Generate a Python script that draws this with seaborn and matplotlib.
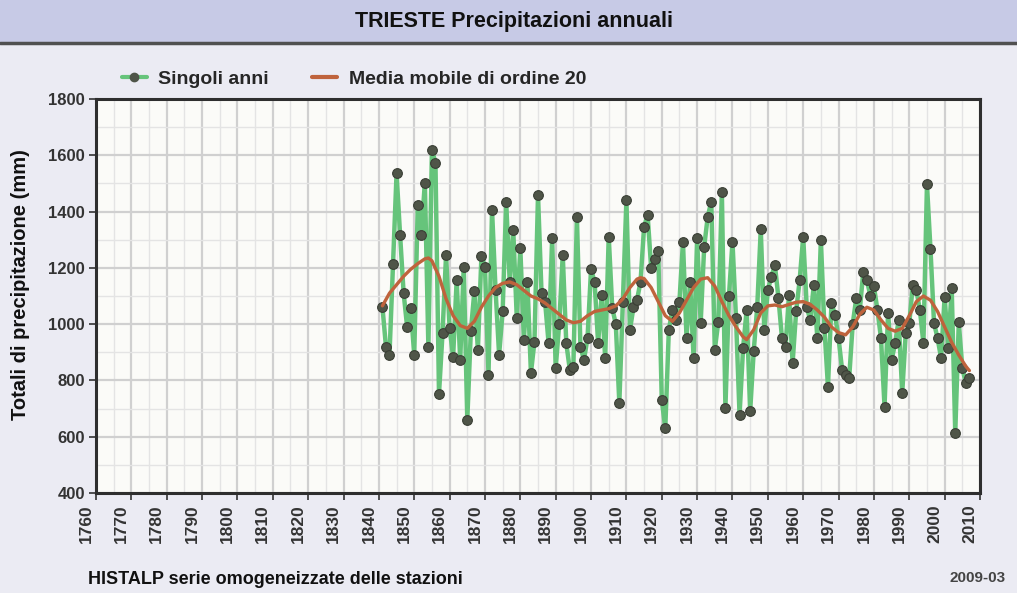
import matplotlib
matplotlib.use("Agg")
import matplotlib.pyplot as plt
from matplotlib.lines import Line2D
from matplotlib.patches import Rectangle
from matplotlib.ticker import MultipleLocator
from matplotlib.transforms import ScaledTranslation
import seaborn as sns
import pandas as pd

# Annual totals (mm)
years = list(range(1841, 2008))
precip = [1062, 920, 891, 1214, 1536, 1317, 1110, 989, 1057, 891,
          1423, 1317, 1503, 918, 1619, 1574, 752, 968, 1246, 986,
          885, 1157, 873, 1204, 660, 974, 1116, 909, 1242, 1204,
          820, 1406, 1121, 891, 1045, 1435, 1151, 1335, 1021, 1270,
          944, 1151, 826, 938, 1459, 1110, 1080, 932, 1305, 844,
          1001, 1246, 932, 838, 849, 1382, 920, 873, 950, 1195,
          1151, 932, 1104, 879, 1311, 1057, 1000, 719, 1080, 1441,
          979, 1060, 1086, 1151, 1346, 1388, 1199, 1231, 1261, 731,
          630, 979, 1051, 1013, 1080, 1293, 950, 1151, 879, 1305,
          1003, 1275, 1382, 1435, 909, 1009, 1471, 701, 1100, 1293,
          1021, 677, 915, 1050, 690, 903, 1062, 1337, 979, 1121,
          1169, 1210, 1092, 950, 920, 1104, 861, 1045, 1157, 1311,
          1060, 1015, 1139, 950, 1299, 986, 778, 1074, 1033, 950,
          838, 820, 808, 1000, 1092, 1050, 1187, 1157, 1100, 1134,
          1050, 950, 707, 1039, 873, 932, 1015, 755, 968, 1003,
          1139, 1121, 1050, 932, 1497, 1266, 1003, 950, 879, 1098,
          915, 1128, 612, 1006, 844, 790, 808]

# Moving average (order 20) as drawn in the reference
ma_years = [1841, 1843, 1845, 1847, 1849, 1851, 1853, 1854, 1855, 1857,
            1859, 1861, 1863, 1865, 1867, 1869, 1871, 1873, 1875, 1877,
            1879, 1881, 1883, 1885, 1887, 1889, 1891, 1893, 1895, 1897,
            1899, 1901, 1903, 1905, 1907, 1909, 1911, 1913, 1914, 1915,
            1917, 1919, 1921, 1923, 1925, 1927, 1929, 1931, 1933, 1935,
            1937, 1939, 1941, 1943, 1944, 1946, 1948, 1950, 1952, 1954,
            1956, 1958, 1960, 1962, 1964, 1966, 1968, 1970, 1972, 1974,
            1976, 1978, 1980, 1982, 1984, 1986, 1988, 1990, 1992, 1994,
            1996, 1998, 2000, 2002, 2004, 2006, 2007]
ma_values = [1065, 1110, 1140, 1170, 1195, 1215, 1232, 1235, 1225, 1170,
             1090, 1030, 995, 985, 1010, 1060, 1100, 1130, 1145, 1150,
             1140, 1120, 1100, 1090, 1075, 1055, 1035, 1015, 1005, 1010,
             1030, 1045, 1050, 1055, 1065, 1090, 1130, 1160, 1165, 1162,
             1130, 1080, 1030, 1010, 1040, 1085, 1130, 1160, 1165, 1135,
             1080, 1030, 990, 955, 945, 980, 1040, 1065, 1068, 1062,
             1070, 1078, 1080, 1070, 1050, 1025, 990, 970, 962, 990,
             1035, 1060, 1050, 1015, 985, 975, 985, 1030, 1080, 1100,
             1085, 1045, 990, 935, 890, 850, 835]

x_ticks = list(range(1760, 2011, 10))
y_ticks = list(range(400, 1801, 200))

df = pd.DataFrame({"anno": years, "mm": precip})
df_ma = pd.DataFrame({"anno": ma_years, "mm": ma_values})

sns.set_theme(style="white")
plt.rcParams['font.family'] = ['Liberation Sans', 'DejaVu Sans']

green = '#66c47b'
dots = '#4f5548'
red = '#bf633c'
bg_color = '#ebebf3'

fig = plt.figure(figsize=(10.17, 5.93), dpi=100, facecolor=bg_color)
ax = fig.add_axes([96/1017, 1-493/593, 884/1017, 394/593])
ax.set_facecolor('#fbfbf8')

# Title band
fig.add_artist(Rectangle((0, 1-42/593), 1, 42/593, transform=fig.transFigure,
                         color='#c7cae6', zorder=0))
fig.add_artist(Line2D([0, 1], [1-43/593, 1-43/593], transform=fig.transFigure,
                      color='#505050', lw=2.5))
fig.text(0.505, 1-22/593, 'TRIESTE Precipitazioni annuali', ha='center', va='center',
         fontsize=15.5, fontweight='bold', color='#111111')

# Data
sns.lineplot(data=df, x='anno', y='mm', ax=ax, color=green, lw=3.2,
             marker='o', markersize=7, markerfacecolor=dots,
             markeredgecolor='#3a3f35', markeredgewidth=0.8, zorder=3)
sns.lineplot(data=df_ma, x='anno', y='mm', ax=ax, color=red, lw=2.4, zorder=4)

ax.set_xlim(1760, 2010)
ax.set_ylim(400, 1800)
ax.set_xticks(x_ticks)
ax.set_yticks(y_ticks)
ax.xaxis.set_minor_locator(MultipleLocator(5))
ax.yaxis.set_minor_locator(MultipleLocator(100))
ax.grid(True, which='major', color='#d0d0d0', lw=1.6)
ax.grid(True, which='minor', color='#e4e4e4', lw=1.0)
ax.set_axisbelow(True)

ax.set_xticklabels([str(t) for t in x_ticks], rotation=90, fontsize=12.5,
                   fontweight='bold', color='#333333')
ax.set_yticklabels([str(t) for t in y_ticks], fontsize=12, fontweight='bold',
                   color='#333333')
ax.tick_params(axis='both', which='major', direction='out', length=5, width=1.2,
               color='#333333', bottom=True, left=True, pad=3)
ax.tick_params(axis='both', which='minor', length=0)
# the year labels sit a little left of their ticks in the original
shift = ScaledTranslation(-10/100, 0, fig.dpi_scale_trans)
for lab in ax.get_xticklabels():
    lab.set_transform(lab.get_transform() + shift)

for side in ['left', 'bottom', 'top', 'right']:
    ax.spines[side].set_color('#2e2e2e')
    ax.spines[side].set_linewidth(2.2)

ax.set_xlabel('')
ax.set_ylabel('Totali di precipitazione (mm)', fontsize=14.5, fontweight='bold',
              color='#111111')
ax.yaxis.set_label_coords(-66/884, 0.53)

# Legend above the plot
handles = [Line2D([], [], color=green, lw=3, marker='o', markersize=6,
                  markerfacecolor=dots, markeredgecolor=dots),
           Line2D([], [], color=red, lw=3)]
fig.legend(handles, ['Singoli anni', 'Media mobile di ordine 20'],
           loc='center left', bbox_to_anchor=(104/1017, 1-79/593), ncol=2,
           frameon=False, handlelength=1.3, columnspacing=2.2, handletextpad=0.6,
           prop={'weight': 'bold', 'size': 14})

# Footer texts
fig.text(88/1017, 1-580/593, 'HISTALP serie omogeneizzate delle stazioni',
         ha='left', va='center', fontsize=13, fontweight='bold', color='#111111')
fig.text(950/1017, 1-578/593, '2009-03', ha='left', va='center',
         fontsize=11, fontweight='bold', color='#444444')

plt.savefig('out.png', dpi=100, facecolor=bg_color)
